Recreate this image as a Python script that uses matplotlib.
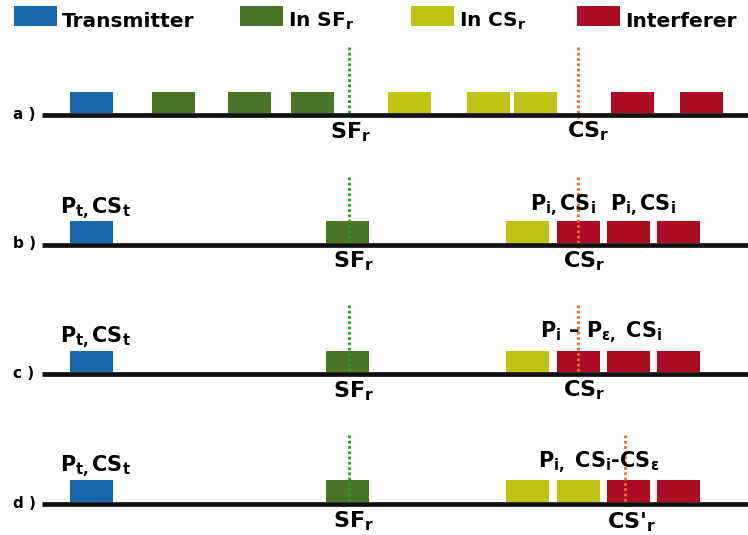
import matplotlib
matplotlib.use("Agg")
import matplotlib.pyplot as plt

plt.rcParams['mathtext.fontset'] = 'custom'
plt.rcParams['mathtext.bf'] = 'DejaVu Sans:bold'
plt.rcParams['mathtext.rm'] = 'DejaVu Sans:bold'

# colours of the four kinds of packets
colores = {
    'tx': '#1868ae',
    'sf': '#4a7526',
    'cs': '#bfc412',
    'int': '#ae0c22',
}
etiquetas_leyenda = ['Transmitter', 'In SF$_\\mathbf{r}$', 'In CS$_\\mathbf{r}$', 'Interferer']
claves_leyenda = ['tx', 'sf', 'cs', 'int']
x_leyenda = [14, 240, 411, 577]

# rows of the diagram
filas = ['a )', 'b )', 'c )', 'd )']
base_y = [115, 244.5, 374, 503.5]

# packets per row: (start, kind)
paquetes = [
    [(70, 'tx'), (152, 'sf'), (228, 'sf'), (291, 'sf'), (388, 'cs'), (467, 'cs'),
     (514, 'cs'), (611, 'int'), (680, 'int')],
    [(70, 'tx'), (326, 'sf'), (506, 'cs'), (557, 'int'), (607, 'int'), (657, 'int')],
    [(70, 'tx'), (326, 'sf'), (506, 'cs'), (557, 'int'), (607, 'int'), (657, 'int')],
    [(70, 'tx'), (326, 'sf'), (506, 'cs'), (557, 'cs'), (607, 'int'), (657, 'int')],
]
ancho = 43
alto = 21.5

# dotted markers: sf position and cs position in every row
x_sf = [349, 349, 349, 349]
x_cs = [578, 578, 578, 625]
tope_marca = [47, 177, 305, 435]

# texts under the line
texto_sf = ['SF$_\\mathbf{r}$'] * 4
texto_cs = ['CS$_\\mathbf{r}$', 'CS$_\\mathbf{r}$', 'CS$_\\mathbf{r}$', "CS'$_\\mathbf{r}$"]
pos_sf = [(330, 138), (333, 267), (333, 397), (333, 527)]
pos_cs = [(567, 137), (563, 267), (563, 396), (607, 528)]

# texts above the packets
textos_arriba = [
    [],
    [('P$_\\mathbf{t,}$CS$_\\mathbf{t}$', 60, 213), ('P$_\\mathbf{i,}$CS$_\\mathbf{i}$', 530, 210),
     ('P$_\\mathbf{i,}$CS$_\\mathbf{i}$', 610, 210)],
    [('P$_\\mathbf{t,}$CS$_\\mathbf{t}$', 60, 342), ('P$_\\mathbf{i}$ \u2013 P$_\\mathbf{\u03b5,}$ CS$_\\mathbf{i}$', 540, 337)],
    [('P$_\\mathbf{t,}$CS$_\\mathbf{t}$', 60, 471), ('P$_\\mathbf{i,}$ CS$_\\mathbf{i}$-CS$_\\mathbf{\u03b5}$', 538, 467)],
]

fig = plt.figure(figsize=(7.48, 5.35), dpi=100)
ax = fig.add_axes([0, 0, 1, 1])
ax.set_xlim(0, 748)
ax.set_ylim(535, 0)
ax.axis('off')

# legend
for x, k, et in zip(x_leyenda, claves_leyenda, etiquetas_leyenda):
    ax.bar(x, 20, width=43, bottom=6, align='edge', color=colores[k])
    ax.text(x + 48, 27, et, fontsize=14.5, fontweight='bold', va='baseline', ha='left')

for i in range(4):
    y0 = base_y[i]
    # marks
    ax.plot([x_sf[i], x_sf[i]], [tope_marca[i], y0 + 1], color='#22a022', lw=2,
            dashes=(1, 0.9), zorder=3)
    ax.plot([x_cs[i], x_cs[i]], [tope_marca[i], y0 + 3], color='#e07030', lw=2,
            dashes=(1, 0.9), zorder=3)
    # packets
    for x, k in paquetes[i]:
        ax.bar(x, -alto, width=ancho, bottom=y0 - 2, align='edge', color=colores[k], zorder=2)
    # base line
    ax.plot([42, 748], [y0, y0], color='#111111', lw=3.4, solid_capstyle='butt', zorder=4)
    ax.text(13, y0 + 4, filas[i], fontsize=11, fontweight='bold', va='baseline')
    ax.text(pos_sf[i][0], pos_sf[i][1], texto_sf[i], fontsize=16, fontweight='bold', va='baseline')
    ax.text(pos_cs[i][0], pos_cs[i][1], texto_cs[i], fontsize=16, fontweight='bold', va='baseline')
    for t, x, y in textos_arriba[i]:
        ax.text(x, y, t, fontsize=15, fontweight='bold', va='baseline', zorder=5)

fig.savefig('out.png', dpi=100)
